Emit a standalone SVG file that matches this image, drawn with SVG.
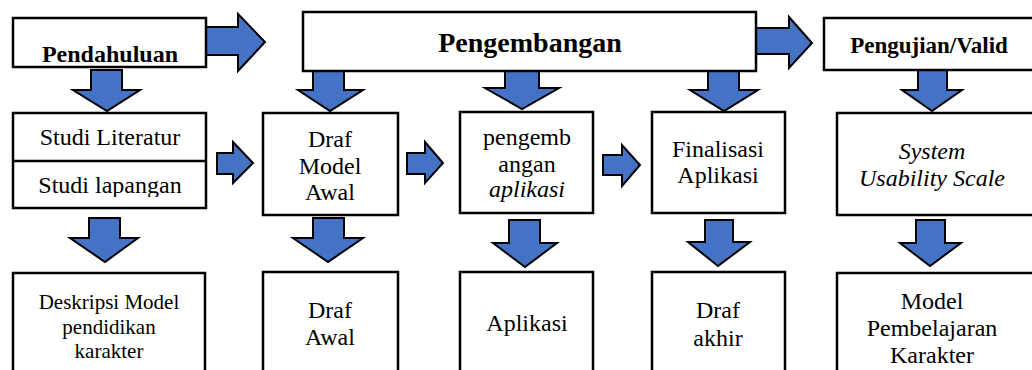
<svg xmlns="http://www.w3.org/2000/svg" width="1032" height="370" viewBox="0 0 1032 370">
<style>
.box{fill:#fff;stroke:#000;stroke-width:2.5}
.arr{fill:#4472C4;stroke:#000;stroke-width:2;stroke-linejoin:miter}
text{fill:#000;text-anchor:middle}
.b{font-weight:bold}
.t24{font-size:24px}
.t21{font-size:21px}
.i{font-style:italic}
</style>
<defs>
<clipPath id="clipStudi"><rect x="13" y="161" width="193" height="36"/></clipPath>
</defs>
<rect width="1032" height="370" fill="#fff"/>

<g id="connectors">
<polygon class="arr" points="206,27 238,27 238,14 265,42 238,71 238,55 206,55"/>
<polygon class="arr" points="756,28 789,28 789,17 812,43 789,68 789,54 756,54"/>
<polygon class="arr" points="91,70 122,70 122,90 140,90 107,111 73,90 91,90"/>
<polygon class="arr" points="313,71 344,71 344,90 363,90 330,111 298,90 313,90"/>
<polygon class="arr" points="505,71 539,71 539,88 559,88 522,109 485,88 505,88"/>
<polygon class="arr" points="708,71 739,71 739,90 758,90 724,111 690,90 708,90"/>
<polygon class="arr" points="918,70 947,70 947,90 962,90 932,111 902,90 918,90"/>
<polygon class="arr" points="217,153 233,153 233,142 253,163 233,183 233,174 217,174"/>
<polygon class="arr" points="407,153 425,153 425,142 443,163 425,183 425,174 407,174"/>
<polygon class="arr" points="603,155 622,155 622,145 640,165 622,186 622,175 603,175"/>
<polygon class="arr" points="89,218 120,218 120,238 138,238 105,262 70,238 89,238"/>
<polygon class="arr" points="313,218 344,218 344,238 363,238 328,262 293,238 313,238"/>
<polygon class="arr" points="509,220 540,220 540,243 557,243 525,267 493,243 509,243"/>
<polygon class="arr" points="705,220 733,220 733,242 750,242 718,266 688,242 705,242"/>
<polygon class="arr" points="916,220 945,220 945,243 961,243 930,266 900,243 916,243"/>
</g>

<g font-family="Liberation Serif, DejaVu Serif, Noto Serif, serif">
<g id="pendahuluan">
<rect class="box" x="13" y="18" width="193" height="49"/>
<text class="b t24" x="110" y="62">Pendahuluan</text>
</g>
<g id="pengembangan">
<rect class="box" x="303" y="12" width="453" height="59"/>
<text class="b" style="font-size:28px" x="530" y="52">Pengembangan</text>
</g>
<g id="pengujian">
<rect class="box" x="824" y="18" width="220" height="52"/>
<text class="b" style="font-size:23px" x="929" y="53">Pengujian/Valid</text>
</g>

<g id="studi">
<rect class="box" x="13" y="113" width="193" height="95"/>
<line x1="13" y1="161" x2="206" y2="161" stroke="#000" stroke-width="2.5"/>
<text class="t24" x="110" y="145">Studi Literatur</text>
<text class="t24" x="110" y="193" clip-path="url(#clipStudi)">Studi lapangan</text>
</g>
<g id="draf-model-awal">
<rect class="box" x="263" y="113" width="135" height="102"/>
<text class="t24" x="330" y="147">Draf</text>
<text class="t24" x="330" y="174">Model</text>
<text class="t24" x="330" y="200">Awal</text>
</g>
<g id="pengembangan-aplikasi">
<rect class="box" x="460" y="112" width="133" height="101"/>
<text class="t24" x="527" y="145">pengemb</text>
<text class="t24" x="527" y="172">angan</text>
<text class="t24 i" x="527" y="197">aplikasi</text>
</g>
<g id="finalisasi">
<rect class="box" x="652" y="112" width="133" height="101"/>
<text class="t24" x="718" y="157">Finalisasi</text>
<text class="t24" x="718" y="183">Aplikasi</text>
</g>
<g id="sus">
<rect class="box" x="837" y="113" width="210" height="102"/>
<text class="t24 i" x="932" y="159">System</text>
<text class="t24 i" x="932" y="186">Usability Scale</text>
</g>

<g id="deskripsi">
<rect class="box" x="13" y="273" width="192" height="110"/>
<text class="t21" x="109" y="309">Deskripsi Model</text>
<text class="t21" x="109" y="334">pendidikan</text>
<text class="t21" x="109" y="358">karakter</text>
</g>
<g id="draf-awal">
<rect class="box" x="263" y="272" width="135" height="110"/>
<text class="t24" x="330" y="318">Draf</text>
<text class="t24" x="330" y="345">Awal</text>
</g>
<g id="aplikasi">
<rect class="box" x="460" y="272" width="133" height="110"/>
<text class="t24" x="527" y="331">Aplikasi</text>
</g>
<g id="draf-akhir">
<rect class="box" x="652" y="272" width="133" height="110"/>
<text class="t24" x="718" y="318">Draf</text>
<text class="t24" x="718" y="346">akhir</text>
</g>
<g id="model-karakter">
<rect class="box" x="837" y="273" width="210" height="110"/>
<text class="t24" x="932" y="309">Model</text>
<text class="t24" x="932" y="336">Pembelajaran</text>
<text class="t24" x="932" y="363">Karakter</text>
</g>
</g>
</svg>
